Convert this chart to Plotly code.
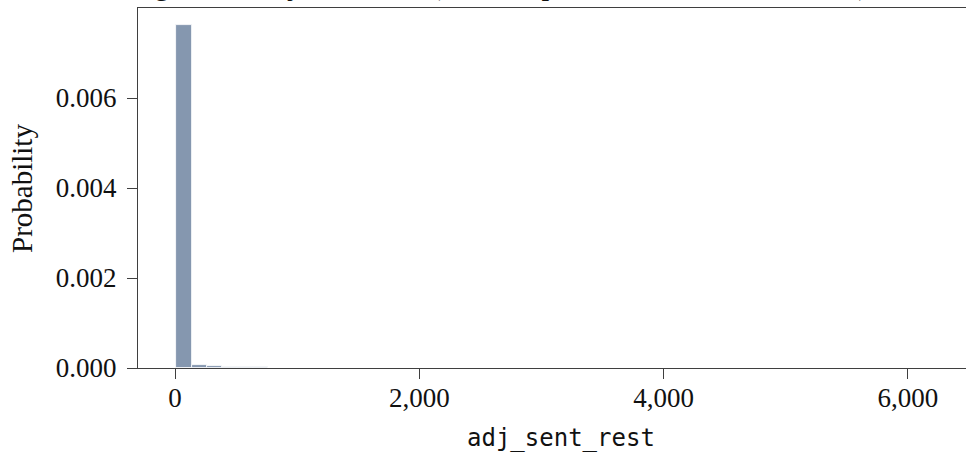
import plotly.graph_objects as go

# ---- data ----
bin_start = 10
bin_width = 125
n_bins = 50
bin_left = [bin_start + i * bin_width for i in range(n_bins)]
density = [
    0.00762, 0.000068, 0.000042, 0.000030, 0.000016, 0.000012, 0.000010, 0.000008,
    0.000007, 0.000006, 0.000005, 0.000004, 0.000004, 0.000003, 0.000003, 0.000003,
    0.000002, 0.000002, 0.000002, 0.000002, 0.000002, 0.000002, 0.000001, 0.000001,
    0.000001, 0.000001, 0.000001, 0.000001, 0.000001, 0.000001, 0.000001, 0.000001,
    0.000001, 0.000001, 0.000001, 0.000001, 0.000001, 0.000001, 0.000001, 0.000001,
    0.000001, 0.000001, 0.000001, 0.000001, 0.000001, 0.000001, 0.000001, 0.000001,
    0.000001, 0.000001,
]
x_ticks = [0, 2000, 4000, 6000]
y_ticks = [0.0, 0.002, 0.004, 0.006]
title_text = "Histogram of adj_sent_rest (full sample, with outliers retained)"
x_title = "adj_sent_rest"
y_title = "Probability"

W, H = 966, 453
ML, MR, MT, MB = 138, 0, 8, 85

SERIF = "Liberation Serif"
MONO = "DejaVu Sans Mono"
AX = "#3f3f3f"
TXT = "#111"

fig = go.Figure()
fig.add_trace(go.Bar(
    x=bin_left, y=density, width=bin_width, offset=0,
    marker=dict(color="rgb(133,151,175)", line=dict(color="white", width=0.8)),
    hoverinfo="x+y",
))

fig.update_layout(
    width=W, height=H,
    margin=dict(l=ML, r=MR, t=MT, b=MB),
    paper_bgcolor="white", plot_bgcolor="white",
    showlegend=False, bargap=0,
    font=dict(family=SERIF, size=27, color=TXT),
)
fig.update_xaxes(
    range=[-303, 6475], tickvals=x_ticks, tickformat=",",
    showgrid=False, zeroline=False,
    showline=True, linecolor=AX, linewidth=1, mirror=True,
    ticks="outside", ticklen=10, tickcolor=AX, tickwidth=1,
    tickfont=dict(family=SERIF, size=27, color=TXT),
    ticklabelstandoff=-4,
    layer="below traces",
)
fig.update_yaxes(
    range=[0, 0.008], tickvals=y_ticks, tickformat=".3f",
    showgrid=False, zeroline=False,
    showline=True, linecolor=AX, linewidth=1, mirror=False,
    ticks="outside", ticklen=10, tickcolor=AX, tickwidth=1,
    tickfont=dict(family=SERIF, size=27, color=TXT),
    ticklabelstandoff=5,
    layer="below traces",
)

pw = W - ML - MR
ph = H - MT - MB

def px_x(page_x):
    return (page_x - ML) / pw

def px_y(page_y):
    return 1 - (page_y - MT) / ph

# y axis title
fig.add_annotation(
    text=y_title, xref="paper", yref="paper", x=px_x(22), y=px_y(188),
    xanchor="center", yanchor="middle", textangle=-90, showarrow=False,
    font=dict(family=SERIF, size=29, color=TXT),
)
# x axis title
fig.add_annotation(
    text=x_title, xref="paper", yref="paper", x=px_x(561), y=px_y(438),
    xanchor="center", yanchor="middle", showarrow=False,
    font=dict(family=MONO, size=24, color=TXT),
)
# chart title (runs off the top of the page, as in the reference)
fig.add_annotation(
    text=title_text, xref="paper", yref="paper", x=px_x(85), y=px_y(3),
    xanchor="left", yanchor="bottom", showarrow=False,
    font=dict(family=SERIF, size=31, color=TXT),
)

fig.write_html(
    "out.html",
    config={"displayModeBar": False},
    post_script="document.body.style.margin='0px';",
)
